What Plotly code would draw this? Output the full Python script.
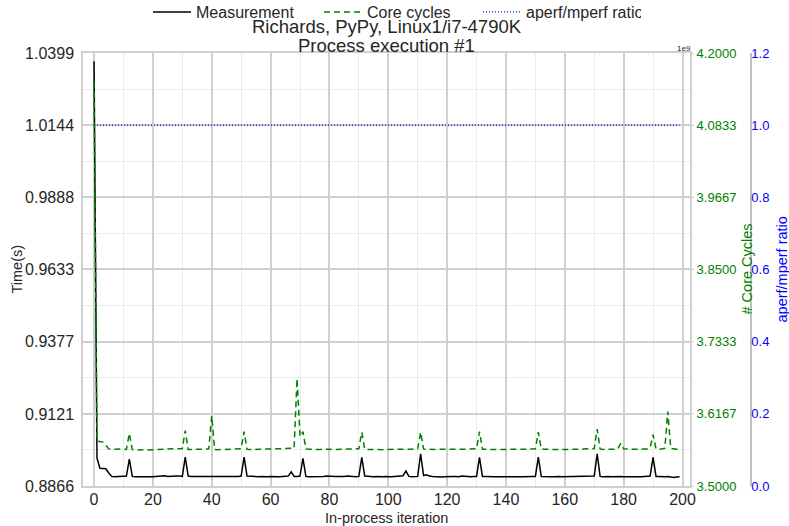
import plotly.graph_objects as go

# ---------------- data ----------------
iterations = list(range(200))

measurement = [
    1.0370, 0.8965, 0.8929, 0.8929, 0.8927, 0.8912, 0.8900, 0.8899, 0.8899, 0.8900,
    0.8899, 0.8901, 0.8961, 0.8900, 0.8899, 0.8900, 0.8899, 0.8899, 0.8900, 0.8899,
    0.8899, 0.8900, 0.8899, 0.8901, 0.8902, 0.8900, 0.8901, 0.8900, 0.8901, 0.8901,
    0.8900, 0.8968, 0.8901, 0.8900, 0.8900, 0.8899, 0.8900, 0.8899, 0.8900, 0.8899,
    0.8899, 0.8899, 0.8898, 0.8899, 0.8899, 0.8898, 0.8899, 0.8899, 0.8899, 0.8900,
    0.8901, 0.8968, 0.8901, 0.8900, 0.8900, 0.8899, 0.8899, 0.8900, 0.8899, 0.8899,
    0.8900, 0.8899, 0.8899, 0.8899, 0.8900, 0.8900, 0.8901, 0.8916, 0.8900, 0.8900,
    0.8901, 0.8964, 0.8900, 0.8899, 0.8899, 0.8898, 0.8899, 0.8900, 0.8900, 0.8901,
    0.8900, 0.8899, 0.8900, 0.8900, 0.8899, 0.8900, 0.8901, 0.8900, 0.8900, 0.8899,
    0.8900, 0.8967, 0.8901, 0.8900, 0.8899, 0.8899, 0.8900, 0.8899, 0.8899, 0.8900,
    0.8899, 0.8899, 0.8900, 0.8900, 0.8900, 0.8902, 0.8919, 0.8900, 0.8899, 0.8899,
    0.8900, 0.8980, 0.8903, 0.8906, 0.8901, 0.8900, 0.8899, 0.8899, 0.8898, 0.8899,
    0.8900, 0.8899, 0.8900, 0.8900, 0.8899, 0.8901, 0.8900, 0.8899, 0.8899, 0.8900,
    0.8900, 0.8967, 0.8900, 0.8900, 0.8899, 0.8900, 0.8899, 0.8899, 0.8900, 0.8899,
    0.8899, 0.8900, 0.8899, 0.8899, 0.8900, 0.8899, 0.8899, 0.8900, 0.8899, 0.8900,
    0.8900, 0.8968, 0.8900, 0.8899, 0.8900, 0.8899, 0.8899, 0.8900, 0.8900, 0.8899,
    0.8899, 0.8900, 0.8901, 0.8900, 0.8899, 0.8899, 0.8900, 0.8900, 0.8899, 0.8900,
    0.8901, 0.8980, 0.8900, 0.8899, 0.8900, 0.8900, 0.8899, 0.8900, 0.8901, 0.8900,
    0.8899, 0.8900, 0.8899, 0.8899, 0.8900, 0.8899, 0.8899, 0.8900, 0.8900, 0.8901,
    0.8967, 0.8900, 0.8900, 0.8899, 0.8899, 0.8900, 0.8899, 0.8896, 0.8898, 0.8899,
]

core_cycles = [
    4.1530e9, 3.5720e9, 3.5720e9, 3.5710e9, 3.5660e9, 3.5600e9, 3.5590e9, 3.5595e9, 3.5598e9, 3.5598e9,
    3.5597e9, 3.5592e9, 3.5850e9, 3.5588e9, 3.5583e9, 3.5586e9, 3.5590e9, 3.5588e9, 3.5585e9, 3.5583e9,
    3.5586e9, 3.5590e9, 3.5593e9, 3.5597e9, 3.5600e9, 3.5598e9, 3.5595e9, 3.5600e9, 3.5603e9, 3.5602e9,
    3.5605e9, 3.5896e9, 3.5590e9, 3.5590e9, 3.5592e9, 3.5594e9, 3.5596e9, 3.5595e9, 3.5595e9, 3.5600e9,
    3.6134e9, 3.5590e9, 3.5587e9, 3.5588e9, 3.5588e9, 3.5590e9, 3.5592e9, 3.5595e9, 3.5600e9, 3.5600e9,
    3.5602e9, 3.5880e9, 3.5592e9, 3.5590e9, 3.5588e9, 3.5590e9, 3.5593e9, 3.5595e9, 3.5596e9, 3.5594e9,
    3.5592e9, 3.5593e9, 3.5596e9, 3.5597e9, 3.5598e9, 3.5600e9, 3.5600e9, 3.5602e9, 3.5610e9, 3.6737e9,
    3.5800e9, 3.5880e9, 3.5600e9, 3.5595e9, 3.5590e9, 3.5588e9, 3.5590e9, 3.5592e9, 3.5595e9, 3.5596e9,
    3.5594e9, 3.5590e9, 3.5592e9, 3.5595e9, 3.5597e9, 3.5598e9, 3.5596e9, 3.5594e9, 3.5596e9, 3.5600e9,
    3.5602e9, 3.5870e9, 3.5595e9, 3.5590e9, 3.5588e9, 3.5590e9, 3.5592e9, 3.5590e9, 3.5588e9, 3.5590e9,
    3.5592e9, 3.5595e9, 3.5593e9, 3.5590e9, 3.5592e9, 3.5596e9, 3.5598e9, 3.5596e9, 3.5595e9, 3.5598e9,
    3.5602e9, 3.5870e9, 3.5600e9, 3.5594e9, 3.5590e9, 3.5588e9, 3.5590e9, 3.5593e9, 3.5595e9, 3.5592e9,
    3.5590e9, 3.5592e9, 3.5595e9, 3.5594e9, 3.5592e9, 3.5594e9, 3.5596e9, 3.5595e9, 3.5598e9, 3.5600e9,
    3.5602e9, 3.5880e9, 3.5598e9, 3.5594e9, 3.5590e9, 3.5591e9, 3.5590e9, 3.5588e9, 3.5590e9, 3.5592e9,
    3.5595e9, 3.5593e9, 3.5590e9, 3.5592e9, 3.5595e9, 3.5596e9, 3.5594e9, 3.5595e9, 3.5598e9, 3.5600e9,
    3.5602e9, 3.5870e9, 3.5600e9, 3.5596e9, 3.5592e9, 3.5590e9, 3.5591e9, 3.5590e9, 3.5592e9, 3.5595e9,
    3.5596e9, 3.5594e9, 3.5592e9, 3.5593e9, 3.5595e9, 3.5597e9, 3.5598e9, 3.5596e9, 3.5598e9, 3.5600e9,
    3.5605e9, 3.5920e9, 3.5600e9, 3.5592e9, 3.5590e9, 3.5592e9, 3.5594e9, 3.5596e9, 3.5600e9, 3.5690e9,
    3.5600e9, 3.5595e9, 3.5594e9, 3.5593e9, 3.5595e9, 3.5594e9, 3.5596e9, 3.5598e9, 3.5600e9, 3.5620e9,
    3.5830e9, 3.5600e9, 3.5596e9, 3.5598e9, 3.5610e9, 3.6204e9, 3.5610e9, 3.5600e9, 3.5595e9, 3.5594e9,
]

aperf_mperf_ratio = [
    1.0, 1.0, 1.0, 1.0, 1.0, 1.0, 1.0, 1.0, 1.0, 1.0, 1.0, 1.0, 1.0, 1.0, 1.0, 1.0, 1.0, 1.0, 1.0, 1.0,
    1.0, 1.0, 1.0, 1.0, 1.0, 1.0, 1.0, 1.0, 1.0, 1.0, 1.0, 1.0, 1.0, 1.0, 1.0, 1.0, 1.0, 1.0, 1.0, 1.0,
    1.0, 1.0, 1.0, 1.0, 1.0, 1.0, 1.0, 1.0, 1.0, 1.0, 1.0, 1.0, 1.0, 1.0, 1.0, 1.0, 1.0, 1.0, 1.0, 1.0,
    1.0, 1.0, 1.0, 1.0, 1.0, 1.0, 1.0, 1.0, 1.0, 1.0, 1.0, 1.0, 1.0, 1.0, 1.0, 1.0, 1.0, 1.0, 1.0, 1.0,
    1.0, 1.0, 1.0, 1.0, 1.0, 1.0, 1.0, 1.0, 1.0, 1.0, 1.0, 1.0, 1.0, 1.0, 1.0, 1.0, 1.0, 1.0, 1.0, 1.0,
    1.0, 1.0, 1.0, 1.0, 1.0, 1.0, 1.0, 1.0, 1.0, 1.0, 1.0, 1.0, 1.0, 1.0, 1.0, 1.0, 1.0, 1.0, 1.0, 1.0,
    1.0, 1.0, 1.0, 1.0, 1.0, 1.0, 1.0, 1.0, 1.0, 1.0, 1.0, 1.0, 1.0, 1.0, 1.0, 1.0, 1.0, 1.0, 1.0, 1.0,
    1.0, 1.0, 1.0, 1.0, 1.0, 1.0, 1.0, 1.0, 1.0, 1.0, 1.0, 1.0, 1.0, 1.0, 1.0, 1.0, 1.0, 1.0, 1.0, 1.0,
    1.0, 1.0, 1.0, 1.0, 1.0, 1.0, 1.0, 1.0, 1.0, 1.0, 1.0, 1.0, 1.0, 1.0, 1.0, 1.0, 1.0, 1.0, 1.0, 1.0,
    1.0, 1.0, 1.0, 1.0, 1.0, 1.0, 1.0, 1.0, 1.0, 1.0, 1.0, 1.0, 1.0, 1.0, 1.0, 1.0, 1.0, 1.0, 1.0, 1.0,
]

x_tick_labels = ["0", "20", "40", "60", "80", "100", "120", "140", "160", "180", "200"]
time_tick_labels = ["0.8866", "0.9121", "0.9377", "0.9633", "0.9888", "1.0144", "1.0399"]
cycle_tick_labels = ["3.5000", "3.6167", "3.7333", "3.8500", "3.9667", "4.0833", "4.2000"]
ratio_tick_labels = ["0.0", "0.2", "0.4", "0.6", "0.8", "1.0", "1.2"]

title_line1 = "Richards, PyPy, Linux1/i7-4790K"
title_line2 = "Process execution #1"

# ---------------- layout geometry ----------------
W, H = 789, 526
ML, MR, MT, MB = 83, 29, 53, 40
PW = W - ML - MR
PH = H - MT - MB
x_dom_end = (690 - ML) / PW
y3_pos = (751 - ML) / PW


def px_x(p):
    return (p - ML) / PW


def px_y(p):
    return (H - MB - p) / PH


FONT = "Liberation Sans, Arial, sans-serif"
TXT = "#262626"
GREEN = "#008000"
BLUE = "#0000ff"
GRID = "#cfcfcf"
MINOR = "#ebebeb"

x_vals = [float(t) for t in x_tick_labels]
time_vals = [float(t) for t in time_tick_labels]
cycle_vals = [float(t) * 1e9 for t in cycle_tick_labels]
ratio_vals = [float(t) for t in ratio_tick_labels]
time_minor = [(a + b) / 2 for a, b in zip(time_vals[:-1], time_vals[1:])]

fig = go.Figure()
fig.add_trace(go.Scatter(
    x=iterations, y=measurement, name="Measurement", mode="lines",
    line=dict(color="#000000", width=1.5), yaxis="y", legendwidth=118,
))
fig.add_trace(go.Scatter(
    x=iterations, y=core_cycles, name="Core cycles", mode="lines",
    line=dict(color=GREEN, width=1.5, dash="6px,4px"), yaxis="y2", legendwidth=106,
))
fig.add_trace(go.Scatter(
    x=iterations, y=aperf_mperf_ratio, name="aperf/mperf ratio", mode="lines",
    line=dict(color=BLUE, width=1.2, dash="1px,2px"), yaxis="y3", legendwidth=110,
))

fig.update_layout(
    width=W, height=H,
    margin=dict(l=ML, r=MR, t=MT, b=MB, autoexpand=False),
    paper_bgcolor="white", plot_bgcolor="white",
    font=dict(family=FONT, color=TXT, size=14),
    showlegend=True,
    legend=dict(
        orientation="h", x=px_x(148), xanchor="left", y=px_y(12), yanchor="middle",
        font=dict(size=16, color=TXT), bgcolor="rgba(0,0,0,0)",
        traceorder="normal", itemwidth=38,
    ),
    xaxis=dict(
        domain=[0, x_dom_end], range=[-3.75, 202.55],
        tickvals=x_vals, ticktext=x_tick_labels,
        tickfont=dict(size=16, color=TXT),
        showgrid=True, gridcolor=GRID, gridwidth=1.5,
        minor=dict(dtick=10, tick0=0, showgrid=True, gridcolor=MINOR, gridwidth=1),
        showline=True, linecolor=GRID, linewidth=1.5, mirror=True,
        ticks="", ticklabelstandoff=-2, zeroline=False,
    ),
    yaxis=dict(
        range=[time_vals[0], time_vals[-1]],
        tickvals=time_vals, ticktext=time_tick_labels,
        tickfont=dict(size=16, color=TXT),
        showgrid=True, gridcolor=GRID, gridwidth=1.5,
        minor=dict(tickvals=time_minor, showgrid=True, gridcolor=MINOR, gridwidth=1),
        showline=True, linecolor=GRID, linewidth=1.5, mirror=True,
        ticks="", ticklabelstandoff=4, zeroline=False,
    ),
    yaxis2=dict(
        overlaying="y", side="right", anchor="x",
        range=[cycle_vals[0], cycle_vals[-1]],
        tickvals=cycle_vals, ticktext=cycle_tick_labels,
        tickfont=dict(size=13, color=GREEN),
        showgrid=False, zeroline=False, showline=False,
        ticks="outside", ticklen=3, tickcolor=GRID, ticklabelstandoff=0,
    ),
    yaxis3=dict(
        overlaying="y", side="right", anchor="free", position=y3_pos,
        range=[ratio_vals[0], ratio_vals[-1]],
        tickvals=ratio_vals, ticktext=ratio_tick_labels,
        tickfont=dict(size=13, color=BLUE),
        showgrid=False, zeroline=False,
        showline=True, linecolor="#c0c0c0", linewidth=1.5,
        ticks="", ticklabelstandoff=-3,
    ),
    annotations=[
        dict(text=title_line1, xref="paper", yref="paper", x=x_dom_end / 2, y=px_y(26),
             xanchor="center", yanchor="middle", showarrow=False,
             font=dict(size=18.5, color=TXT)),
        dict(text=title_line2, xref="paper", yref="paper", x=x_dom_end / 2, y=px_y(45),
             xanchor="center", yanchor="middle", showarrow=False,
             font=dict(size=18.5, color=TXT)),
        dict(text="Time(s)", xref="paper", yref="paper", x=px_x(16), y=0.5,
             xanchor="center", yanchor="middle", textangle=-90, showarrow=False,
             font=dict(size=14.5, color=TXT)),
        dict(text="In-process iteration", xref="paper", yref="paper", x=px_x(386), y=px_y(518),
             xanchor="center", yanchor="middle", showarrow=False,
             font=dict(size=14.5, color=TXT)),
        dict(text="# Core Cycles", xref="paper", yref="paper", x=px_x(746), y=0.5,
             xanchor="center", yanchor="middle", textangle=-90, showarrow=False,
             font=dict(size=14.5, color=GREEN)),
        dict(text="aperf/mperf ratio", xref="paper", yref="paper", x=px_x(781), y=0.5,
             xanchor="center", yanchor="middle", textangle=-90, showarrow=False,
             font=dict(size=14.5, color=BLUE)),
        dict(text="1e9", xref="paper", yref="paper", x=px_x(684), y=px_y(48),
             xanchor="center", yanchor="middle", showarrow=False,
             font=dict(size=8, color=TXT)),
    ],
)

fig.write_html("out.html")
